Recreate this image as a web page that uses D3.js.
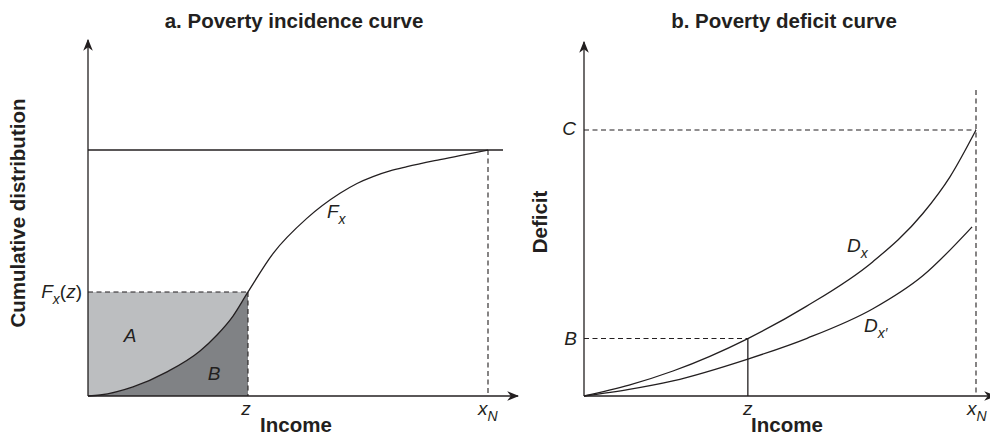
<!DOCTYPE html>
<html>
<head>
<meta charset="utf-8">
<script src="https://cdn.jsdelivr.net/npm/d3@7"></script>
<style>
  html, body { margin: 0; padding: 0; background: #fff; }
  svg { display: block; }
  text { font-family: "Liberation Sans", Arial, Helvetica, sans-serif; fill: #231f20; }
</style>
</head>
<body>
<svg id="chart" width="990" height="438"></svg>
<script>
// ---------- Data ----------
// Panel a: cumulative distribution F_x (income normalised so x_N = 100, F = share)
const fxIncome = [0, 3, 11.25, 19.75, 28, 32.25, 36.25, 40, 46.3, 54.7, 63, 67.25, 71.25, 75.5, 79.75, 88, 100];
const fxShare  = [0, 0.004, 0.037, 0.098, 0.183, 0.248, 0.325, 0.423, 0.58, 0.722, 0.824, 0.864, 0.892, 0.915, 0.932, 0.961, 1.0];
const povertyLineA = 40;      // z
const incidenceAtZ = 0.423;   // F_x(z)
const maxIncomeA = 100;       // x_N

// Panel b: deficit curves D_x and D_x'
const dxIncome  = [0, 11.5, 22.7, 41.8, 56.6, 73.7, 86.5, 93.4, 100];
const dxDeficit = [0, 4.1, 9.4, 21.6, 33.6, 50.5, 68.7, 82.5, 100];
const dx2Income  = [0, 11.5, 22.7, 41.8, 56.9, 73.7, 86.5, 99];
const dx2Deficit = [0, 2.5, 5.7, 13.9, 21.7, 32.8, 45.3, 63.6];
const povertyLineB = 41.8;    // z
const deficitAtZ = 21.6;      // B
const deficitAtMax = 100;     // C
const maxIncomeB = 100;       // x_N

const titles = ["a. Poverty incidence curve", "b. Poverty deficit curve"];
const yTitles = ["Cumulative distribution", "Deficit"];
const xTitle = "Income";

// ---------- Drawing ----------
const svg = d3.select("#chart");
const ink = "#231f20";
const light = "#bcbec0";
const dark = "#808285";
const boldSize = 20.5;
const labelSize = 19;

const defs = svg.append("defs");
defs.append("marker").attr("id", "arrow")
  .attr("viewBox", "0 0 10 10").attr("refX", 9).attr("refY", 5)
  .attr("markerWidth", 12).attr("markerHeight", 12)
  .attr("markerUnits", "userSpaceOnUse")
  .attr("orient", "auto")
  .append("path").attr("d", "M0,1 L10,5 L0,9 L3,5 Z").attr("fill", ink);

function line(g, x1, y1, x2, y2, dashed, arrow) {
  const l = g.append("line").attr("x1", x1).attr("y1", y1).attr("x2", x2).attr("y2", y2)
    .attr("stroke", ink).attr("stroke-width", 1.3);
  if (dashed) l.attr("stroke-dasharray", "5,3.5").attr("stroke-width", 1.1);
  if (arrow) l.attr("marker-end", "url(#arrow)");
  return l;
}

function italicLabel(g, x, y, main, sub, rest, anchor) {
  const t = g.append("text").attr("x", x).attr("y", y)
    .attr("font-size", labelSize).attr("font-style", "italic")
    .attr("text-anchor", anchor || "middle");
  t.append("tspan").text(main);
  if (sub) t.append("tspan").attr("font-size", 14).attr("dy", 6).text(sub);
  if (rest) {
    t.append("tspan").attr("dy", -6).attr("font-style", "normal").text("(");
    t.append("tspan").text(rest);
    t.append("tspan").attr("font-style", "normal").text(")");
  }
  return t;
}

function boldText(g, x, y, txt, rotate) {
  const t = g.append("text").attr("text-anchor", "middle")
    .attr("font-size", boldSize).attr("font-weight", "bold").text(txt);
  if (rotate) t.attr("transform", `translate(${x},${y}) rotate(-90)`);
  else t.attr("x", x).attr("y", y);
  return t;
}

const smooth = d3.curveMonotoneX;

// ===== Panel a =====
const ga = svg.append("g");
const xa = d3.scaleLinear().domain([0, maxIncomeA]).range([88, 488]);
const ya = d3.scaleLinear().domain([0, 1]).range([396, 150]);
const fxData = fxIncome.map((v, i) => [v, fxShare[i]]);
const fxUnderZ = fxData.filter(d => d[0] <= povertyLineA);

ga.append("rect")
  .attr("x", xa(0)).attr("y", ya(incidenceAtZ))
  .attr("width", xa(povertyLineA) - xa(0)).attr("height", ya(0) - ya(incidenceAtZ))
  .attr("fill", light);
ga.append("path")
  .attr("d", d3.area().x(d => xa(d[0])).y0(ya(0)).y1(d => ya(d[1])).curve(smooth)(fxUnderZ))
  .attr("fill", dark);

line(ga, xa(0), ya(incidenceAtZ), xa(povertyLineA), ya(incidenceAtZ), true);
line(ga, xa(povertyLineA), ya(incidenceAtZ), xa(povertyLineA), ya(0), true);
line(ga, xa(maxIncomeA), ya(1), xa(maxIncomeA), ya(0), true);
line(ga, xa(0), ya(1), 503, ya(1), false);

ga.append("path")
  .attr("d", d3.line().x(d => xa(d[0])).y(d => ya(d[1])).curve(smooth)(fxData))
  .attr("fill", "none").attr("stroke", ink).attr("stroke-width", 1.3);

line(ga, xa(0), ya(0), xa(0), 40, false, true);
line(ga, xa(0), ya(0), 518, ya(0), false, true);

boldText(ga, 294, 28, titles[0]);
boldText(ga, 25, 213, yTitles[0], true);
boldText(ga, 296, 432, xTitle);
italicLabel(ga, xa(povertyLineA) - 2, 415, "z");
italicLabel(ga, 478, 415, "x", "N", null, "start");
italicLabel(ga, 82, 298, "F", "x", "z", "end");
italicLabel(ga, 130, 342, "A");
italicLabel(ga, 214, 380, "B");
italicLabel(ga, 327, 218, "F", "x", null, "start");

// ===== Panel b =====
const gb = svg.append("g");
const xb = d3.scaleLinear().domain([0, maxIncomeB]).range([584, 976]);
const yb = d3.scaleLinear().domain([0, deficitAtMax]).range([396, 130]);
const dxData = dxIncome.map((v, i) => [v, dxDeficit[i]]);
const dx2Data = dx2Income.map((v, i) => [v, dx2Deficit[i]]);

line(gb, xb(0), yb(deficitAtMax), xb(maxIncomeB), yb(deficitAtMax), true);
line(gb, xb(maxIncomeB), 90, xb(maxIncomeB), yb(0), true);
line(gb, xb(0), yb(deficitAtZ), xb(povertyLineB), yb(deficitAtZ), true);
line(gb, xb(povertyLineB), yb(deficitAtZ), xb(povertyLineB), yb(0), false);

const lb = d3.line().x(d => xb(d[0])).y(d => yb(d[1])).curve(smooth);
gb.append("path").attr("d", lb(dxData)).attr("fill", "none").attr("stroke", ink).attr("stroke-width", 1.3);
gb.append("path").attr("d", lb(dx2Data)).attr("fill", "none").attr("stroke", ink).attr("stroke-width", 1.3);

line(gb, xb(0), yb(0), xb(0), 42, false, true);
line(gb, xb(0), yb(0), 995, yb(0), false, true);

boldText(gb, 784, 28, titles[1]);
boldText(gb, 547, 222, yTitles[1], true);
boldText(gb, 787, 432, xTitle);
italicLabel(gb, xb(povertyLineB), 415, "z");
italicLabel(gb, 967, 415, "x", "N", null, "start");
italicLabel(gb, 576, 135, "C", null, null, "end");
italicLabel(gb, 577, 345, "B", null, null, "end");
italicLabel(gb, 847, 252, "D", "x", null, "start");
italicLabel(gb, 864, 332, "D", "x\u2032", null, "start");
</script>
</body>
</html>
